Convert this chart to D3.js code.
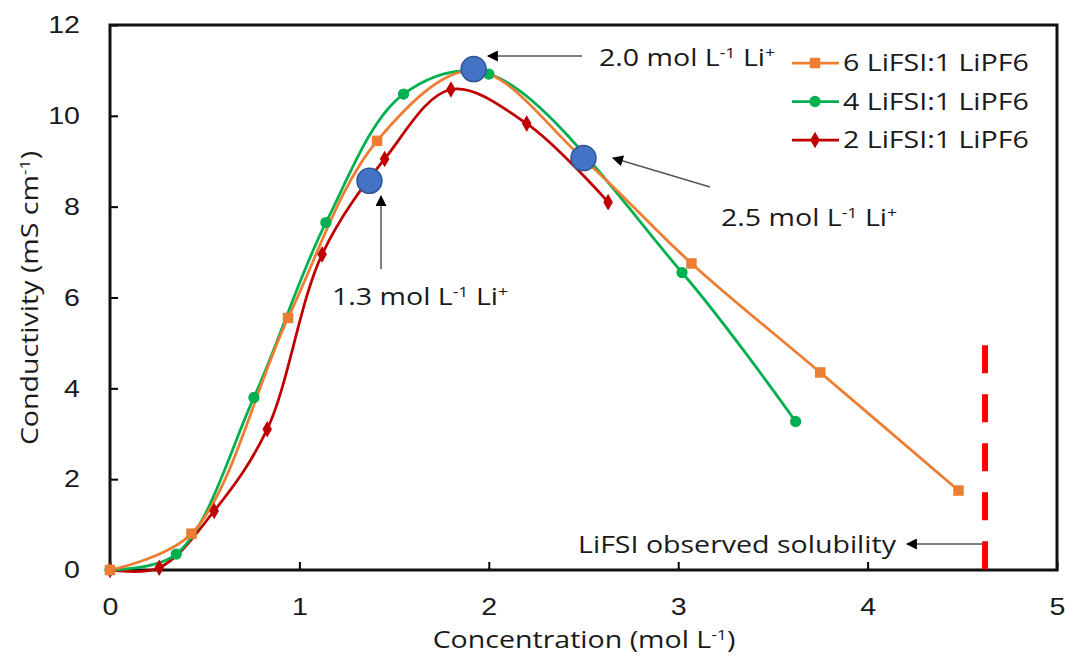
<!DOCTYPE html>
<html>
<head>
<meta charset="utf-8">
<script src="https://cdn.jsdelivr.net/npm/d3@7"></script>
<style>
  body { margin: 0; background: #fff; }
  svg { display: block; font-family: "Open Sans", Lato, sans-serif; }
</style>
</head>
<body>
<svg id="chart" width="1066" height="659"></svg>
<script>
// data
const xTicks = [0, 1, 2, 3, 4, 5];
const yTicks = [0, 2, 4, 6, 8, 10, 12];

const conc6 = [0, 0.43, 0.94, 1.41, 1.92, 2.5, 3.07, 3.75, 4.48];
const cond6 = [0, 0.8, 5.55, 9.45, 11.0, 9.05, 6.75, 4.35, 1.75];

const conc4 = [0, 0.35, 0.76, 1.14, 1.55, 2.0, 3.02, 3.62];
const cond4 = [0, 0.35, 3.8, 7.65, 10.48, 10.92, 6.55, 3.27];

const conc2 = [0, 0.26, 0.55, 0.83, 1.12, 1.45, 1.8, 2.2, 2.63];
const cond2 = [0, 0.05, 1.3, 3.1, 6.95, 9.05, 10.58, 9.83, 8.1];

const liConc = [1.37, 1.92, 2.5];
const liCond = [8.57, 11.03, 9.07];

const solubility = 4.62;
const solubilityTop = 4.95;

const seriesNames = ["6 LiFSI:1 LiPF6", "4 LiFSI:1 LiPF6", "2 LiFSI:1 LiPF6"];
const seriesColors = ["#ED7D31", "#00B050", "#C00000"];
const seriesSymbols = [d3.symbolSquare, d3.symbolCircle, d3.symbolDiamond];
const seriesSizes = [110, 100, 80];

const series = [
  { x: conc6, y: cond6 },
  { x: conc4, y: cond4 },
  { x: conc2, y: cond2 }
].map((s, i) => ({
  name: seriesNames[i],
  color: seriesColors[i],
  symbol: seriesSymbols[i],
  size: seriesSizes[i],
  pts: s.x.map((v, j) => ({ x: v, y: s.y[j] }))
}));

const svg = d3.select("#chart");
const margin = { left: 110, top: 25, right: 9, bottom: 89 };
const W = 1066, H = 659;

const x = d3.scaleLinear().domain([0, 5]).range([margin.left, W - margin.right]);
const y = d3.scaleLinear().domain([0, 12]).range([H - margin.bottom, margin.top]);

const fontSize = 24;
const SX = 1.19; // the original text is set wider than Open Sans
const textColor = "#1a1a1a";

const addText = (parent, tx, ty, anchor, rot) =>
  parent.append("text")
    .attr("transform", `translate(${tx},${ty})${rot ? ` rotate(${rot})` : ""} scale(${SX},1)`)
    .attr("text-anchor", anchor || "start")
    .attr("font-size", fontSize)
    .attr("fill", textColor);

// axes, ticks inside
svg.append("g")
  .attr("transform", `translate(0,${y(0)})`)
  .call(d3.axisBottom(x).tickValues(xTicks).tickSize(-8).tickPadding(28).tickFormat(d3.format("d")))
  .call(g => g.select(".domain").remove())
  .call(g => g.selectAll("line").attr("stroke", "#000").attr("stroke-width", 2))
  .call(g => g.selectAll("text").attr("font-size", fontSize).attr("fill", textColor)
    .attr("font-family", null).attr("transform", `scale(${SX},1)`));

svg.append("g")
  .attr("transform", `translate(${x(0)},0)`)
  .call(d3.axisLeft(y).tickValues(yTicks).tickSize(-8).tickFormat(d3.format("d")))
  .call(g => g.select(".domain").remove())
  .call(g => g.selectAll("line").attr("stroke", "#000").attr("stroke-width", 2))
  .call(g => g.selectAll("text").attr("font-size", fontSize).attr("fill", textColor)
    .attr("font-family", null).attr("x", -30 / SX).attr("transform", `scale(${SX},1)`));

// plot box
svg.append("rect")
  .attr("x", x(0)).attr("y", y(12))
  .attr("width", x(5) - x(0)).attr("height", y(0) - y(12))
  .attr("fill", "none").attr("stroke", "#111").attr("stroke-width", 3);

// text with superscripts
const supText = (sel, parts) => {
  let shift = 0;
  parts.forEach(p => {
    const ts = sel.append("tspan").text(p.t);
    if (p.sup) {
      ts.attr("dy", -8 - shift).attr("font-size", "0.62em");
      shift = -8;
    } else {
      if (shift) ts.attr("dy", -shift);
      shift = 0;
    }
  });
};

supText(addText(svg, 584, 648, "middle"),
  [{ t: "Concentration (mol L" }, { t: "-1", sup: true }, { t: ")" }]);

supText(addText(svg, 38, 298, "middle", -90),
  [{ t: "Conductivity (mS cm" }, { t: "-1", sup: true }, { t: ")" }]);

// solubility line
svg.append("line")
  .attr("x1", x(solubility)).attr("x2", x(solubility))
  .attr("y1", y(solubilityTop)).attr("y2", y(0))
  .attr("stroke", "#FF0000").attr("stroke-width", 6)
  .attr("stroke-dasharray", "28 21");

// series lines
const line = d3.line()
  .x(d => x(d.x)).y(d => y(d.y))
  .curve(d3.curveCatmullRom.alpha(0.5));

series.slice().reverse().forEach(s => {
  svg.append("path")
    .datum(s.pts)
    .attr("d", line)
    .attr("fill", "none")
    .attr("stroke", s.color)
    .attr("stroke-width", 2.75);
});

series.slice().reverse().forEach(s => {
  svg.append("g").selectAll("path")
    .data(s.pts)
    .join("path")
    .attr("transform", d => `translate(${x(d.x)},${y(d.y)})`)
    .attr("d", d3.symbol().type(s.symbol).size(s.size))
    .attr("fill", s.color);
});

// Li+ concentration markers
svg.append("g").selectAll("circle")
  .data(liConc.map((v, i) => ({ x: v, y: liCond[i] })))
  .join("circle")
  .attr("cx", d => x(d.x)).attr("cy", d => y(d.y))
  .attr("r", 12.5)
  .attr("fill", "#4472C4")
  .attr("stroke", "#2F5597").attr("stroke-width", 1.5);

// annotations
const defs = svg.append("defs");
defs.append("marker")
  .attr("id", "head")
  .attr("viewBox", "0 0 10 10")
  .attr("refX", 9).attr("refY", 5)
  .attr("markerWidth", 12).attr("markerHeight", 11)
  .attr("markerUnits", "userSpaceOnUse")
  .attr("orient", "auto")
  .append("path").attr("d", "M0,0 L10,5 L0,10 Z").attr("fill", "#000");

const arrows = [
  [582, 56, 488, 56],
  [381, 269, 381, 196],
  [710, 187, 613, 158],
  [983, 544, 907, 544]
];
arrows.forEach(a => {
  svg.append("line")
    .attr("x1", a[0]).attr("y1", a[1]).attr("x2", a[2]).attr("y2", a[3])
    .attr("stroke", "#555").attr("stroke-width", 1.5)
    .attr("marker-end", "url(#head)");
});

const labels = [
  { x: 599, y: 66, v: "2.0" },
  { x: 332, y: 305, v: "1.3" },
  { x: 721, y: 226, v: "2.5" }
];
labels.forEach(l => {
  supText(addText(svg, l.x, l.y),
    [{ t: l.v + " mol L" }, { t: "-1", sup: true }, { t: " Li" }, { t: "+", sup: true }]);
});

addText(svg, 896, 553, "end").text("LiFSI observed solubility");

// legend
const legend = svg.append("g");
series.forEach((s, i) => {
  const ly = 63 + i * 38.5;
  legend.append("line")
    .attr("x1", 792).attr("x2", 839).attr("y1", ly).attr("y2", ly)
    .attr("stroke", s.color).attr("stroke-width", 2.75);
  legend.append("path")
    .attr("transform", `translate(815,${ly})`)
    .attr("d", d3.symbol().type(s.symbol).size(s.size))
    .attr("fill", s.color);
  addText(legend, 843, ly + 8).text(s.name);
});
</script>
</body>
</html>
